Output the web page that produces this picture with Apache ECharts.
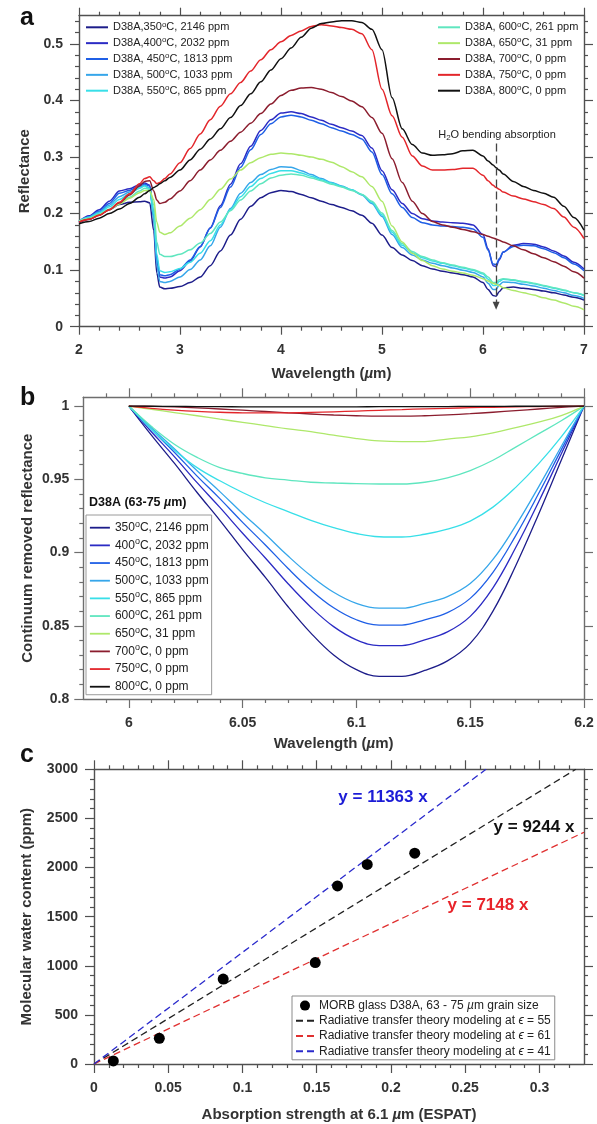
<!DOCTYPE html>
<html><head><meta charset="utf-8">
<script src="https://cdn.jsdelivr.net/npm/echarts@6.0.0/dist/echarts.min.js"></script>
<style>html,body{margin:0;padding:0;background:#fff}#c{width:597px;height:1124px}</style>
</head><body><div id="c"></div>
<script>
// ---------------- DATA ----------------
// Panel a: reflectance spectra
const wavelengthA = [2.0,2.1,2.2,2.3,2.4,2.5,2.6,2.65,2.7,2.74,2.77,2.8,2.85,2.9,3.0,3.1,3.2,3.3,3.4,3.5,3.6,3.7,3.8,3.9,4.0,4.1,4.2,4.3,4.4,4.5,4.6,4.7,4.8,4.9,5.0,5.1,5.2,5.3,5.4,5.5,5.6,5.7,5.8,5.9,6.0,6.05,6.1,6.13,6.16,6.2,6.3,6.4,6.5,6.6,6.7,6.8,6.9,7.0];
const refl350 = [0.184,0.190,0.198,0.207,0.216,0.220,0.221,0.222,0.219,0.170,0.095,0.070,0.067,0.068,0.071,0.078,0.088,0.108,0.134,0.162,0.190,0.213,0.228,0.237,0.241,0.239,0.234,0.228,0.222,0.216,0.211,0.205,0.197,0.183,0.162,0.140,0.127,0.117,0.108,0.102,0.098,0.095,0.092,0.088,0.078,0.066,0.055,0.054,0.062,0.069,0.070,0.068,0.066,0.063,0.060,0.056,0.052,0.047];
const refl400 = [0.186,0.196,0.207,0.222,0.240,0.244,0.251,0.254,0.250,0.195,0.115,0.088,0.086,0.088,0.099,0.116,0.141,0.175,0.214,0.252,0.288,0.319,0.347,0.366,0.378,0.380,0.377,0.371,0.365,0.358,0.352,0.346,0.338,0.316,0.276,0.242,0.218,0.200,0.191,0.187,0.185,0.184,0.183,0.180,0.163,0.138,0.108,0.106,0.118,0.132,0.144,0.147,0.146,0.141,0.134,0.125,0.114,0.102];
const refl450 = [0.186,0.194,0.204,0.218,0.236,0.241,0.249,0.252,0.249,0.200,0.122,0.092,0.090,0.092,0.102,0.118,0.142,0.174,0.211,0.247,0.282,0.313,0.340,0.359,0.371,0.374,0.371,0.365,0.359,0.352,0.346,0.340,0.332,0.309,0.269,0.235,0.211,0.193,0.184,0.180,0.178,0.177,0.176,0.173,0.158,0.135,0.111,0.110,0.120,0.132,0.142,0.144,0.143,0.138,0.131,0.122,0.111,0.099];
const refl500 = [0.186,0.194,0.203,0.215,0.230,0.238,0.247,0.250,0.245,0.190,0.110,0.080,0.078,0.080,0.088,0.101,0.118,0.143,0.176,0.209,0.236,0.255,0.269,0.278,0.283,0.282,0.276,0.269,0.262,0.255,0.249,0.242,0.233,0.218,0.195,0.163,0.140,0.127,0.118,0.112,0.108,0.104,0.100,0.096,0.088,0.077,0.066,0.066,0.074,0.079,0.078,0.075,0.072,0.068,0.064,0.060,0.055,0.050];
const refl550 = [0.187,0.193,0.201,0.212,0.225,0.235,0.245,0.249,0.243,0.200,0.128,0.099,0.096,0.097,0.103,0.114,0.130,0.152,0.180,0.207,0.230,0.248,0.262,0.271,0.276,0.276,0.272,0.266,0.260,0.254,0.248,0.242,0.234,0.220,0.198,0.167,0.144,0.131,0.122,0.116,0.112,0.108,0.104,0.100,0.093,0.084,0.073,0.073,0.080,0.084,0.082,0.079,0.076,0.072,0.068,0.064,0.060,0.055];
const refl600 = [0.187,0.192,0.199,0.208,0.219,0.229,0.240,0.245,0.243,0.215,0.150,0.128,0.124,0.124,0.128,0.136,0.148,0.165,0.185,0.205,0.224,0.240,0.253,0.263,0.268,0.270,0.268,0.263,0.258,0.252,0.247,0.241,0.234,0.222,0.201,0.170,0.147,0.133,0.124,0.118,0.113,0.109,0.105,0.101,0.095,0.088,0.078,0.078,0.083,0.085,0.083,0.080,0.077,0.073,0.069,0.065,0.060,0.056];
const refl650 = [0.186,0.191,0.198,0.207,0.217,0.227,0.237,0.241,0.240,0.225,0.185,0.167,0.163,0.166,0.178,0.192,0.207,0.225,0.243,0.261,0.277,0.290,0.299,0.305,0.307,0.306,0.303,0.300,0.296,0.291,0.283,0.274,0.265,0.248,0.222,0.178,0.150,0.130,0.117,0.108,0.102,0.098,0.095,0.091,0.085,0.081,0.077,0.075,0.073,0.069,0.064,0.060,0.056,0.051,0.047,0.042,0.036,0.030];
const refl700 = [0.185,0.190,0.197,0.207,0.219,0.233,0.249,0.257,0.258,0.240,0.224,0.218,0.220,0.226,0.240,0.258,0.277,0.295,0.312,0.328,0.344,0.360,0.377,0.394,0.409,0.418,0.422,0.423,0.420,0.414,0.407,0.399,0.389,0.370,0.342,0.297,0.255,0.222,0.200,0.186,0.180,0.176,0.172,0.168,0.163,0.160,0.157,0.155,0.153,0.150,0.143,0.136,0.129,0.122,0.115,0.107,0.097,0.086];
const refl750 = [0.185,0.190,0.197,0.207,0.220,0.235,0.253,0.262,0.265,0.258,0.253,0.255,0.262,0.270,0.290,0.315,0.341,0.366,0.390,0.412,0.432,0.452,0.472,0.490,0.504,0.515,0.523,0.531,0.534,0.532,0.529,0.526,0.518,0.490,0.420,0.373,0.335,0.302,0.284,0.277,0.277,0.278,0.280,0.280,0.268,0.258,0.250,0.246,0.243,0.238,0.231,0.226,0.221,0.216,0.209,0.194,0.176,0.156];
const refl800 = [0.182,0.186,0.192,0.200,0.208,0.218,0.229,0.235,0.241,0.246,0.249,0.253,0.258,0.264,0.277,0.295,0.314,0.332,0.350,0.370,0.391,0.412,0.433,0.454,0.474,0.493,0.512,0.528,0.536,0.539,0.541,0.541,0.538,0.526,0.490,0.405,0.350,0.322,0.307,0.303,0.304,0.306,0.311,0.312,0.302,0.293,0.286,0.281,0.277,0.270,0.257,0.248,0.241,0.236,0.229,0.213,0.193,0.171];

// Panel b: continuum removed reflectance
const wavelengthB = [6.00,6.01,6.02,6.03,6.04,6.05,6.06,6.07,6.08,6.09,6.10,6.11,6.12,6.13,6.14,6.15,6.16,6.17,6.18,6.19,6.20];
const crr350 = [1.000,0.980,0.961,0.941,0.922,0.902,0.883,0.863,0.845,0.830,0.820,0.8155,0.8155,0.8195,0.826,0.838,0.860,0.891,0.926,0.963,1.000];
const crr400 = [1.000,0.9823,0.9655,0.9477,0.9308,0.9132,0.8963,0.8787,0.8627,0.8494,0.8404,0.8365,0.8365,0.8404,0.8458,0.8564,0.8759,0.9034,0.9344,0.9673,1.000];
const crr450 = [1.000,0.9839,0.9685,0.9522,0.9368,0.9206,0.9052,0.8891,0.8744,0.8623,0.8541,0.8505,0.8505,0.8541,0.8590,0.8687,0.8865,0.9116,0.9401,0.9701,1.000];
const crr500 = [1.000,0.9851,0.9709,0.9558,0.9416,0.9267,0.9125,0.8976,0.8841,0.8729,0.8653,0.862,0.862,0.8653,0.8699,0.8788,0.8953,0.9184,0.9447,0.9724,1.000];
const crr550 = [1.000,0.984,0.970,0.958,0.949,0.941,0.934,0.928,0.922,0.917,0.913,0.9108,0.9106,0.9125,0.916,0.9215,0.931,0.9445,0.9605,0.979,1.000];
const crr600 = [1.000,0.986,0.974,0.965,0.958,0.954,0.951,0.9495,0.948,0.9475,0.947,0.9468,0.9468,0.948,0.951,0.956,0.963,0.972,0.981,0.990,1.000];
const crr650 = [1.000,0.9978,0.9956,0.9934,0.9911,0.9889,0.9867,0.9845,0.9826,0.9801,0.9778,0.9762,0.9757,0.9758,0.9775,0.979,0.9817,0.9853,0.989,0.9935,1.000];
const crr700 = [1.000,0.9998,0.9994,0.9988,0.998,0.9972,0.9963,0.9954,0.9946,0.9939,0.9934,0.9931,0.9931,0.9934,0.994,0.9948,0.9958,0.9969,0.998,0.9991,1.000];
const crr750 = [1.000,0.9985,0.9973,0.9964,0.9958,0.9954,0.9953,0.9954,0.9957,0.9961,0.9966,0.9971,0.9976,0.9981,0.9985,0.9989,0.9992,0.9995,0.9997,0.9999,1.000];
const crr800 = [1.000,0.9999,0.9998,0.9997,0.9996,0.9995,0.9995,0.9995,0.9995,0.9995,0.9995,0.9996,0.9996,0.9997,0.9997,0.9998,0.9998,0.9999,0.9999,1.000,1.000];

// Panel c: water content vs ESPAT
const espat = [0.013,0.044,0.087,0.149,0.164,0.184,0.216];
const waterPpm = [31,261,865,1033,1813,2032,2146];
const fitEps55 = [[0,0],[0.3245,3000]];
const fitEps61 = [[0,0],[0.33,2359]];
const fitEps41 = [[0,0],[0.264,3000]];

const namesA = ['D38A,350°C, 2146 ppm','D38A,400°C, 2032 ppm','D38A, 450°C, 1813 ppm','D38A, 500°C, 1033 ppm','D38A, 550°C, 865 ppm','D38A, 600°C, 261 ppm','D38A, 650°C, 31 ppm','D38A, 700°C, 0 ppm','D38A, 750°C, 0 ppm','D38A, 800°C, 0 ppm'];
const namesB = ['350°C, 2146 ppm','400°C, 2032 ppm','450°C, 1813 ppm','500°C, 1033 ppm','550°C, 865 ppm','600°C, 261 ppm','650°C, 31 ppm','700°C, 0 ppm','750°C, 0 ppm','800°C, 0 ppm'];
const namesC = ['MORB glass D38A, 63 - 75 µm grain size','Radiative transfer theory modeling at ϵ = 55','Radiative transfer theory modeling at ϵ = 61','Radiative transfer theory modeling at ϵ = 41'];

const ticksAX = [2,3,4,5,6,7];
const ticksAY = [0,0.1,0.2,0.3,0.4,0.5];
const ticksBX = [6,6.05,6.1,6.15,6.2];
const ticksBY = [0.8,0.85,0.9,0.95,1];
const ticksCX = [0,0.05,0.1,0.15,0.2,0.25,0.3];
const ticksCY = [0,500,1000,1500,2000,2500,3000];

// ---------------- STYLE ----------------
const seriesColors = ['#1d1d8a','#2b2bc4','#1f5fe6','#36a6ea','#38dfe8','#5fe6bf','#aee86a','#8b1d2e','#e3262b','#111111'];
const FONT = "'Liberation Sans', Arial, Helvetica, sans-serif";
const TXT = '#333333';
const AXC = '#505050';

function minorTicks(lo, hi, step, majors) {
  const out = [];
  const n = Math.round((hi - lo) / step);
  for (let i = 0; i <= n; i++) {
    const v = +(lo + i * step).toFixed(6);
    if (!majors.some(m => Math.abs(m - v) < step / 10)) out.push(v);
  }
  return out;
}
const fmtNum = v => String(+(+v).toFixed(4));

function makeAxes(grid, dim, c) {
  const mainPos = dim === 'x' ? 'bottom' : 'left';
  const mirPos = dim === 'x' ? 'top' : 'right';
  const base = {type:'value', gridIndex:grid, min:c.min, max:c.max, scale:true, splitLine:{show:false}, axisPointer:{show:false}, nameMoveOverlap:false};
  const lineOn = {show:true, onZero:false, lineStyle:{color:c.line, width:1.4}};
  const lineOff = {show:false, onZero:false};
  const tickStyle = {color:c.line, width:1.2};
  const mk = (pos, line, vals, len, label) => Object.assign({}, base, {
    position: pos, axisLine: line,
    axisTick: {show:true, inside:false, length:len, customValues:vals, lineStyle:tickStyle},
    axisLabel: label ? {show:true, customValues:c.majors, formatter:fmtNum, margin:c.margin, color:TXT, fontSize:14, fontWeight:'bold', fontFamily:FONT} : {show:false}
  });
  const main = mk(mainPos, lineOn, c.majors, c.majorLen, true);
  main.name = c.name;
  main.nameLocation = 'middle';
  main.nameGap = c.nameGap;
  main.nameTextStyle = {fontSize:15, fontWeight:'bold', color:TXT, fontFamily:FONT,
    rich:{b:{fontSize:15, fontWeight:'bold', color:TXT, fontFamily:FONT}, i:{fontSize:15, fontWeight:'bold', fontStyle:'italic', color:TXT, fontFamily:FONT}}};
  return [main, mk(mainPos, lineOff, c.minors, c.minorLen, false), mk(mirPos, lineOn, c.majors, c.majorLen, false), mk(mirPos, lineOff, c.minors, c.minorLen, false)];
}

const xAxes = [].concat(
  makeAxes(0,'x',{min:2,max:7,majors:ticksAX,minors:minorTicks(2,7,0.2,ticksAX),line:AXC,margin:16,majorLen:8,minorLen:4,name:'{b|Wavelength (}{i|µ}{b|m)}',nameGap:40}),
  makeAxes(1,'x',{min:5.98,max:6.2,majors:ticksBX,minors:minorTicks(5.99,6.19,0.01,ticksBX),line:'#6e6e6e',margin:17,majorLen:9,minorLen:4,name:'{b|Wavelength (}{i|µ}{b|m)}',nameGap:37}),
  makeAxes(2,'x',{min:0,max:0.33,majors:ticksCX,minors:minorTicks(0.01,0.32,0.01,ticksCX),line:AXC,margin:17,majorLen:9,minorLen:4,name:'{b|Absorption strength at 6.1 }{i|µ}{b|m (ESPAT)}',nameGap:43})
);
const yAxes = [].concat(
  makeAxes(0,'y',{min:0,max:0.55,majors:ticksAY,minors:minorTicks(0.02,0.54,0.02,ticksAY),line:AXC,margin:16,majorLen:9,minorLen:4,name:'{b|Reflectance}',nameGap:47}),
  makeAxes(1,'y',{min:0.8,max:1.006,majors:ticksBY,minors:minorTicks(0.81,1.0,0.01,ticksBY),line:'#6e6e6e',margin:14,majorLen:9,minorLen:4,name:'{b|Continuum removed reflectance}',nameGap:48}),
  makeAxes(2,'y',{min:0,max:3000,majors:ticksCY,minors:minorTicks(100,2900,100,ticksCY),line:AXC,margin:16,majorLen:9,minorLen:4,name:'{b|Molecular water content (ppm)}',nameGap:60})
);

const reflSets = [refl350,refl400,refl450,refl500,refl550,refl600,refl650,refl700,refl750,refl800];
const crrSets = [crr350,crr400,crr450,crr500,crr550,crr600,crr650,crr700,crr750,crr800];

const series = [];
reflSets.forEach((arr, k) => {
  const s = {type:'line', name:namesA[k], xAxisIndex:0, yAxisIndex:0, symbol:'none', showSymbol:false, smooth:0.3, smoothMonotone:'x',
    lineStyle:{color:seriesColors[k], width:1.5}, itemStyle:{color:seriesColors[k]}, z:3,
    data: wavelengthA.map((w,i) => [w, arr[i]])};
  if (k === 9) {
    s.markLine = {silent:true, symbol:['none','triangle'], symbolSize:[7,8], animation:false,
      lineStyle:{color:'#444', type:[8,4], width:1.3}, label:{show:false},
      data:[[{coord:[6.13,0.324]},{coord:[6.13,0.037]}]]};
  }
  series.push(s);
});
crrSets.forEach((arr, k) => {
  series.push({type:'line', name:namesB[k], xAxisIndex:4, yAxisIndex:4, symbol:'none', showSymbol:false, smooth:0.4,
    lineStyle:{color:seriesColors[k], width:1.3}, itemStyle:{color:seriesColors[k]}, z:3,
    data: wavelengthB.map((w,i) => [w, arr[i]])});
});
series.push({type:'line', name:namesC[1], xAxisIndex:8, yAxisIndex:8, symbol:'none', lineStyle:{color:'#222', width:1.3, type:[7,4]}, itemStyle:{color:'#222'}, data:fitEps55});
series.push({type:'line', name:namesC[2], xAxisIndex:8, yAxisIndex:8, symbol:'none', lineStyle:{color:'#e03030', width:1.3, type:[7,4]}, itemStyle:{color:'#e03030'}, data:fitEps61});
series.push({type:'line', name:namesC[3], xAxisIndex:8, yAxisIndex:8, symbol:'none', lineStyle:{color:'#2a2acc', width:1.3, type:[7,4]}, itemStyle:{color:'#2a2acc'}, data:fitEps41});
series.push({type:'scatter', name:namesC[0], xAxisIndex:8, yAxisIndex:8, symbol:'circle', symbolSize:11, itemStyle:{color:'#000', opacity:1}, z:5,
  data: espat.map((x,i) => [x, waterPpm[i]])});

const supFmt = name => name.split('°').join('{s|o}');
function legendText(size, lh) {
  return {fontSize:size, color:'#222', fontFamily:FONT, lineHeight:lh,
    rich:{s:{fontSize:Math.round(size*0.72), color:'#222', fontFamily:FONT, verticalAlign:'top', lineHeight:lh},
          i:{fontSize:size, fontStyle:'italic', color:'#222', fontFamily:FONT, lineHeight:lh}}};
}
const noSym = {opacity:0};
const legends = [
  {left:85, top:20.3, orient:'vertical', padding:0, itemWidth:22, itemHeight:10, itemGap:1.85, selectedMode:false,
   itemStyle:noSym, lineStyle:{width:2},
   data:namesA.slice(0,5), formatter:supFmt, textStyle:legendText(11,14)},
  {left:437, top:20.3, orient:'vertical', padding:0, itemWidth:22, itemHeight:10, itemGap:1.85, selectedMode:false,
   itemStyle:noSym, lineStyle:{width:2},
   data:namesA.slice(5), formatter:supFmt, textStyle:legendText(11,14)},
  {left:86, top:515, orient:'vertical', padding:[4.7,3,0,3], itemWidth:20, itemHeight:12, itemGap:1.67, selectedMode:false,
   borderColor:'#9a9a9a', borderWidth:1, backgroundColor:'#fff', itemStyle:noSym, lineStyle:{width:1.8},
   data:namesB, formatter:supFmt, textStyle:legendText(12,16)},
  {left:292, top:996, orient:'vertical', padding:[2,4,1,3], itemWidth:18, itemHeight:10, itemGap:0, selectedMode:false,
   borderColor:'#8a8a8a', borderWidth:1, backgroundColor:'#fff',
   data:[{name:namesC[0], itemStyle:{opacity:1}}, {name:namesC[1], itemStyle:noSym}, {name:namesC[2], itemStyle:noSym}, {name:namesC[3], itemStyle:noSym}],
   formatter: n => n.replace('µ','{i|µ}').replace('ϵ','{i|ϵ}'), textStyle:legendText(12,15.2)}
];

const txt = (x, y, text, extra) => ({type:'text', x:x, y:y, z:100, silent:true,
  style:Object.assign({text:text, fill:'#111', fontFamily:FONT, fontSize:25, fontWeight:'bold', align:'left', verticalAlign:'bottom'}, extra || {})});

const graphics = [
  txt(20, 30.5, 'a'),
  txt(20, 410.5, 'b'),
  txt(20, 767.5, 'c'),
  txt(497, 135, '{n|H}{s|2}{n|O bending absorption}', {fontSize:11, fontWeight:'normal', fill:'#222', align:'center', verticalAlign:'middle',
    rich:{n:{fontSize:11, fill:'#222', fontFamily:FONT, lineHeight:14}, s:{fontSize:8, fill:'#222', fontFamily:FONT, verticalAlign:'bottom', lineHeight:14}}}),
  txt(89, 503, '{b|D38A (63-75 }{i|µ}{b|m)}', {fontSize:12.5, align:'left', verticalAlign:'middle',
    rich:{b:{fontSize:12.5, fontWeight:'bold', fill:'#111', fontFamily:FONT}, i:{fontSize:12.5, fontWeight:'bold', fontStyle:'italic', fill:'#111', fontFamily:FONT}}}),
  txt(383, 797, 'y = 11363 x', {fontSize:17, fill:'#1c1cd6', align:'center', verticalAlign:'middle'}),
  txt(534, 827, 'y = 9244 x', {fontSize:17, fill:'#111', align:'center', verticalAlign:'middle'}),
  txt(488, 905, 'y = 7148 x', {fontSize:17, fill:'#e8232a', align:'center', verticalAlign:'middle'})
];

const chart = echarts.init(document.getElementById('c'), null, {renderer:'canvas'});
chart.setOption({
  animation:false,
  backgroundColor:'#fff',
  textStyle:{fontFamily:FONT},
  grid:[
    {left:79, top:15.7, width:505, height:311, outerBoundsMode:'none', containLabel:false},
    {left:83.3, top:397.3, width:500.7, height:301.7, outerBoundsMode:'none', containLabel:false},
    {left:94, top:769.3, width:490, height:294.7, outerBoundsMode:'none', containLabel:false}
  ],
  xAxis:xAxes,
  yAxis:yAxes,
  legend:legends,
  series:series,
  graphic:{elements:graphics}
});
</script></body></html>
